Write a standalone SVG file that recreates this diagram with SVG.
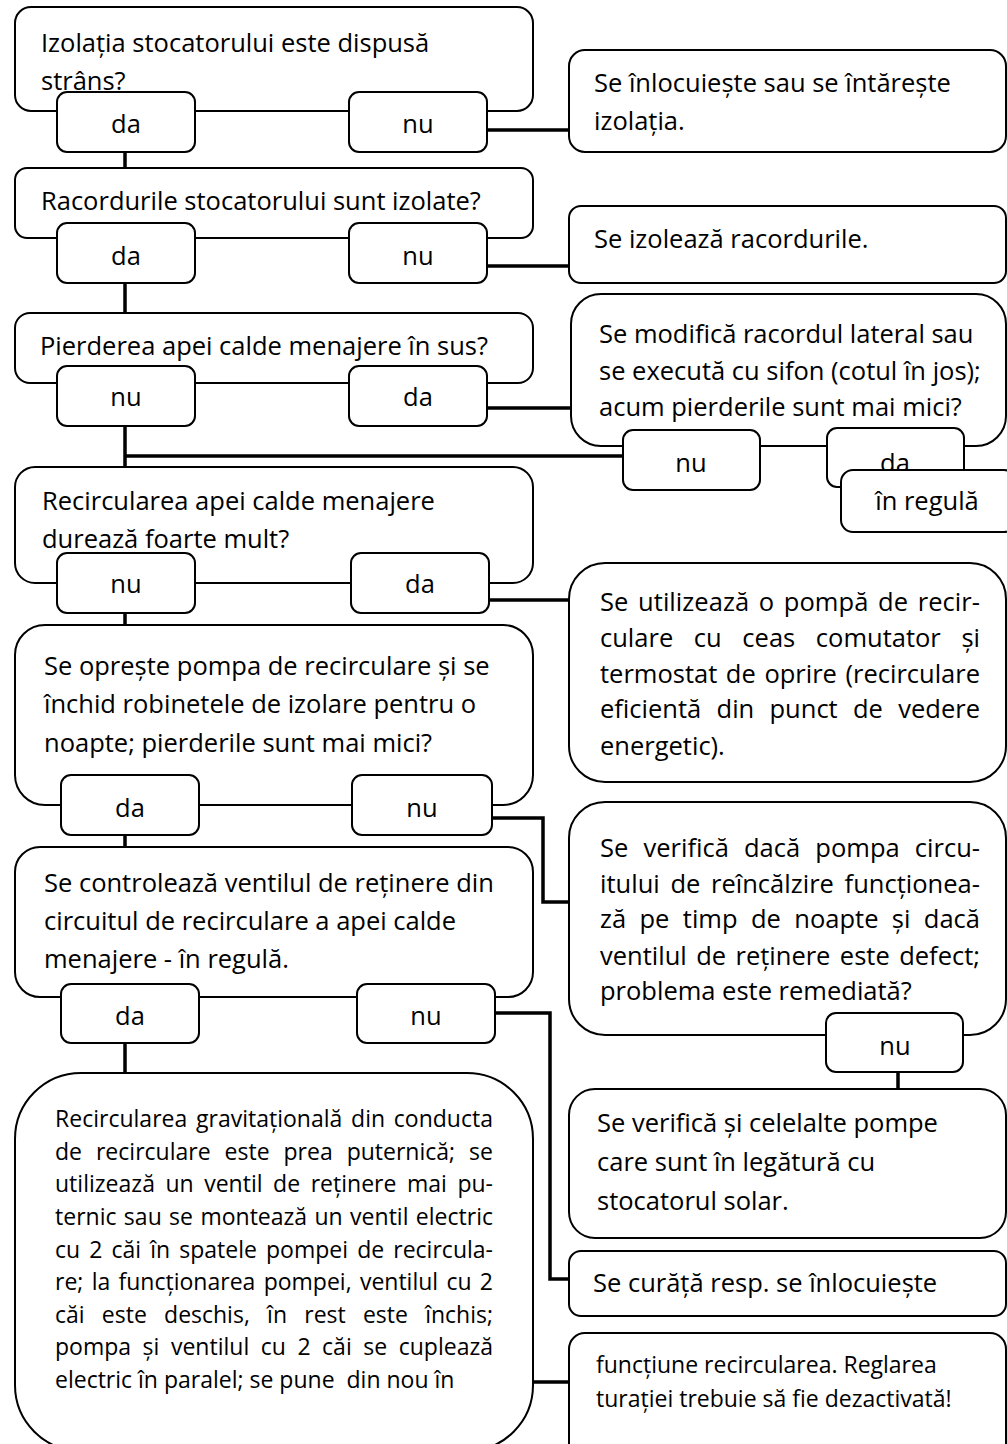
<svg xmlns="http://www.w3.org/2000/svg" width="1007" height="1444" viewBox="0 0 1007 1444">
<style>
.b{fill:#fff;stroke:#000;stroke-width:2}
.t{font-family:"Open Sans","Liberation Sans",sans-serif;font-size:25.5px;fill:#000}
.s{font-size:23px}
.c{text-anchor:middle}
.k{fill:none;stroke:#000;stroke-width:3.5}
</style>
<rect width="1007" height="1444" fill="#fff"/>
<g id="connectors">
<path class="k" d="M125 152V168M487 130H569M125 283V313M487 266H569M487 408H571M125 426V467M125 456H623M125 613V625M489 600H569M125 835V847M492 818H543V902H569M898 1072V1089M125 1043V1073M495 1013H550V1279H569M533 1382H569"/>
</g>
<g id="q1">
<rect class="b" x="15" y="7" width="518" height="104" rx="16"/>
<text class="t" x="41" y="52">Izolația stocatorului este dispusă</text>
<text class="t" x="41" y="90">strâns?</text>
</g>
<g id="q1-da"><rect class="b" x="57" y="92" width="138" height="60" rx="10"/><text class="t c" x="126" y="133">da</text></g>
<g id="q1-nu"><rect class="b" x="349" y="92" width="138" height="60" rx="10"/><text class="t c" x="418" y="133">nu</text></g>
<g id="r1">
<rect class="b" x="569" y="50" width="437" height="102" rx="16"/>
<text class="t" x="594" y="92">Se înlocuiește sau se întărește</text>
<text class="t" x="594" y="130">izolația.</text>
</g>
<g id="q2">
<rect class="b" x="15" y="168" width="518" height="70" rx="12"/>
<text class="t" x="41" y="210">Racordurile stocatorului sunt izolate?</text>
</g>
<g id="q2-da"><rect class="b" x="57" y="223" width="138" height="60" rx="10"/><text class="t c" x="126" y="265">da</text></g>
<g id="q2-nu"><rect class="b" x="349" y="223" width="138" height="60" rx="10"/><text class="t c" x="418" y="265">nu</text></g>
<g id="r2">
<rect class="b" x="569" y="206" width="437" height="77" rx="12"/>
<text class="t" x="594" y="248">Se izolează racordurile.</text>
</g>
<g id="q3">
<rect class="b" x="15" y="313" width="518" height="70" rx="15"/>
<text class="t" x="40" y="355">Pierderea apei calde menajere în sus?</text>
</g>
<g id="q3-nu"><rect class="b" x="57" y="366" width="138" height="60" rx="10"/><text class="t c" x="126" y="406">nu</text></g>
<g id="q3-da"><rect class="b" x="349" y="366" width="138" height="60" rx="10"/><text class="t c" x="418" y="406">da</text></g>
<g id="r3">
<rect class="b" x="571" y="294" width="435" height="152" rx="30"/>
<text class="t" x="599" y="343">Se modifică racordul lateral sau</text>
<text class="t" x="599" y="380">se execută cu sifon (cotul în jos);</text>
<text class="t" x="599" y="416">acum pierderile sunt mai mici?</text>
</g>
<g id="r3-nu"><rect class="b" x="623" y="430" width="137" height="60" rx="10"/><text class="t c" x="691" y="472">nu</text></g>
<g id="r3-da"><rect class="b" x="827" y="428" width="137" height="59" rx="10"/><text class="t c" x="895" y="472">da</text></g>
<g id="ok1"><rect class="b" x="841" y="470" width="175" height="62" rx="12"/><text class="t c" x="927" y="510">în regulă</text></g>
<g id="q4">
<rect class="b" x="15" y="467" width="518" height="116" rx="20"/>
<text class="t" x="42" y="510">Recircularea apei calde menajere</text>
<text class="t" x="42" y="548">durează foarte mult?</text>
</g>
<g id="q4-nu"><rect class="b" x="57" y="553" width="138" height="60" rx="10"/><text class="t c" x="126" y="593">nu</text></g>
<g id="q4-da"><rect class="b" x="351" y="553" width="138" height="60" rx="10"/><text class="t c" x="420" y="593">da</text></g>
<g id="r4">
<rect class="b" x="569" y="563" width="437" height="219" rx="36"/>
<text class="t" x="600" y="611" style="word-spacing:3px" textLength="380" lengthAdjust="spacing">Se utilizează o pompă de recir-</text>
<text class="t" x="600" y="647" style="word-spacing:14px" textLength="380" lengthAdjust="spacing">culare cu ceas comutator și</text>
<text class="t" x="600" y="683" style="word-spacing:2px" textLength="380" lengthAdjust="spacing">termostat de oprire (recirculare</text>
<text class="t" x="600" y="718" style="word-spacing:8.7px" textLength="380" lengthAdjust="spacing">eficientă din punct de vedere</text>
<text class="t" x="600" y="755">energetic).</text>
</g>
<g id="q5">
<rect class="b" x="15" y="625" width="518" height="180" rx="30"/>
<text class="t" x="44" y="675">Se oprește pompa de recirculare și se</text>
<text class="t" x="44" y="713">închid robinetele de izolare pentru o</text>
<text class="t" x="44" y="752">noapte; pierderile sunt mai mici?</text>
</g>
<g id="q5-da"><rect class="b" x="61" y="775" width="138" height="60" rx="10"/><text class="t c" x="130" y="817">da</text></g>
<g id="q5-nu"><rect class="b" x="352" y="775" width="140" height="60" rx="10"/><text class="t c" x="422" y="817">nu</text></g>
<g id="r5">
<rect class="b" x="569" y="802" width="437" height="233" rx="36"/>
<text class="t" x="600" y="857" style="word-spacing:8.5px" textLength="380" lengthAdjust="spacing">Se verifică dacă pompa circu-</text>
<text class="t" x="600" y="893" style="word-spacing:4px" textLength="380" lengthAdjust="spacing">itului de reîncălzire funcționea-</text>
<text class="t" x="600" y="928" style="word-spacing:6.7px" textLength="380" lengthAdjust="spacing">ză pe timp de noapte și dacă</text>
<text class="t" x="600" y="965" style="word-spacing:2.8px" textLength="380" lengthAdjust="spacing">ventilul de reținere este defect;</text>
<text class="t" x="600" y="1000">problema este remediată?</text>
</g>
<g id="r5-nu"><rect class="b" x="826" y="1013" width="137" height="59" rx="10"/><text class="t c" x="895" y="1055">nu</text></g>
<g id="r6">
<rect class="b" x="569" y="1089" width="437" height="149" rx="26"/>
<text class="t" x="597" y="1132">Se verifică și celelalte pompe</text>
<text class="t" x="597" y="1171">care sunt în legătură cu</text>
<text class="t" x="597" y="1210">stocatorul solar.</text>
</g>
<g id="q6">
<rect class="b" x="15" y="847" width="518" height="150" rx="25"/>
<text class="t" x="44" y="892">Se controlează ventilul de reținere din</text>
<text class="t" x="44" y="930">circuitul de recirculare a apei calde</text>
<text class="t" x="44" y="968">menajere - în regulă.</text>
</g>
<g id="q6-da"><rect class="b" x="61" y="984" width="138" height="59" rx="10"/><text class="t c" x="130" y="1025">da</text></g>
<g id="q6-nu"><rect class="b" x="357" y="984" width="138" height="59" rx="10"/><text class="t c" x="426" y="1025">nu</text></g>
<g id="r7">
<rect class="b" x="569" y="1251" width="437" height="65" rx="12"/>
<text class="t" x="593" y="1292">Se curăță resp. se înlocuiește</text>
</g>
<g id="r8">
<rect class="b" x="569" y="1333" width="437" height="130" rx="16"/>
<text class="t s" x="596" y="1373">funcțiune recircularea. Reglarea</text>
<text class="t s" x="596" y="1407">turației trebuie să fie dezactivată!</text>
</g>
<g id="big">
<rect class="b" x="15" y="1073" width="518" height="378" rx="66"/>
<text class="t s" x="55" y="1127" style="word-spacing:2.7px" textLength="438" lengthAdjust="spacing">Recircularea gravitațională din conducta</text>
<text class="t s" x="55" y="1160" style="word-spacing:8px" textLength="438" lengthAdjust="spacing">de recirculare este prea puternică; se</text>
<text class="t s" x="55" y="1192" style="word-spacing:4.5px" textLength="438" lengthAdjust="spacing">utilizează un ventil de reținere mai pu-</text>
<text class="t s" x="55" y="1225" style="word-spacing:1.4px" textLength="438" lengthAdjust="spacing">ternic sau se montează un ventil electric</text>
<text class="t s" x="55" y="1258" style="word-spacing:3.1px" textLength="438" lengthAdjust="spacing">cu 2 căi în spatele pompei de recircula-</text>
<text class="t s" x="55" y="1290" style="word-spacing:2.3px" textLength="438" lengthAdjust="spacing">re; la funcționarea pompei, ventilul cu 2</text>
<text class="t s" x="55" y="1323" style="word-spacing:11.3px" textLength="438" lengthAdjust="spacing">căi este deschis, în rest este închis;</text>
<text class="t s" x="55" y="1355" style="word-spacing:5.5px" textLength="438" lengthAdjust="spacing">pompa și ventilul cu 2 căi se cuplează</text>
<text class="t s" x="55" y="1388" xml:space="preserve">electric în paralel; se pune  din nou în</text>
</g>
</svg>
